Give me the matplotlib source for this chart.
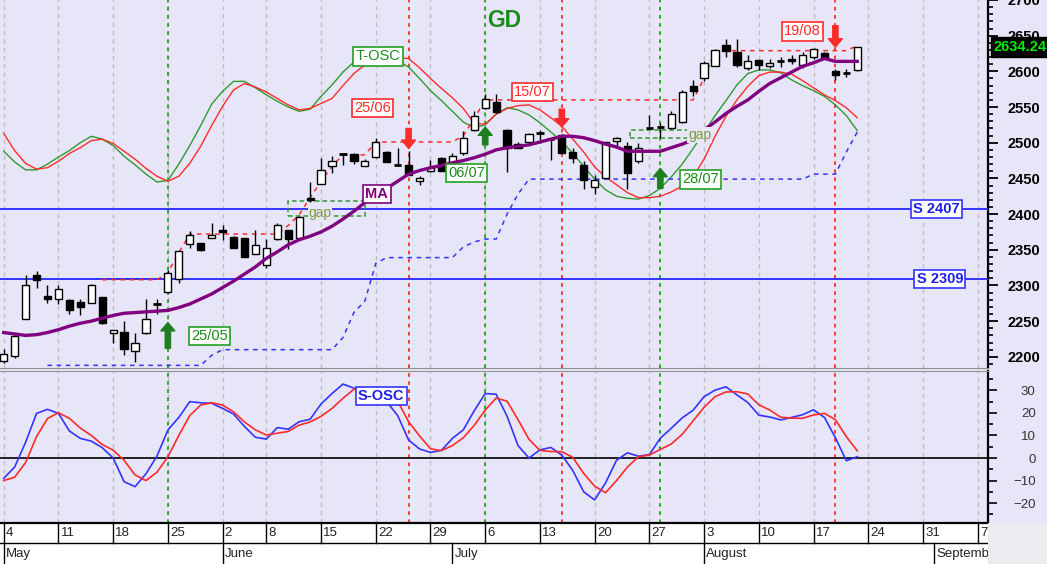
import numpy as np
import pandas as pd
import matplotlib
matplotlib.use('Agg')
import matplotlib.pyplot as plt
from matplotlib.patches import Rectangle

plt.rcParams['font.family'] = ['Liberation Sans', 'DejaVu Sans']

# trading days, exchange closed on Whit Monday 1 June
days = pd.bdate_range('2020-05-04', '2020-09-11')
days = days[days != pd.Timestamp('2020-06-01')]

opens = [2194, 2201, 2253, 2314, 2285, 2281, 2280, 2277, 2276, 2284,
         2234, 2235, 2208, 2233, 2274, 2291, 2309, 2358, 2359, 2367,
         2378, 2368, 2366, 2344, 2328, 2365, 2377, 2367, 2423, 2442,
         2468, 2484, 2484, 2468, 2480, 2487, 2469, 2469, 2446, 2461,
         2478, 2472, 2486, 2518, 2548, 2557, 2518, 2498, 2501, 2513,
         2505, 2511, 2487, 2469, 2438, 2451, 2502, 2496, 2474, 2520,
         2523, 2520, 2529, 2580, 2590, 2607, 2637, 2627, 2605, 2616,
         2607, 2614, 2617, 2609, 2620, 2626, 2600, 2598, 2602]
highs = [2211, 2233, 2315, 2320, 2300, 2301, 2281, 2281, 2302, 2284,
         2237, 2250, 2233, 2281, 2281, 2322, 2348, 2376, 2360, 2388,
         2385, 2369, 2366, 2377, 2365, 2388, 2378, 2397, 2445, 2479,
         2481, 2484, 2486, 2477, 2507, 2488, 2492, 2488, 2454, 2476,
         2480, 2486, 2516, 2544, 2568, 2568, 2519, 2501, 2514, 2518,
         2507, 2512, 2492, 2474, 2455, 2501, 2508, 2501, 2499, 2539,
         2527, 2545, 2574, 2588, 2614, 2632, 2645, 2646, 2623, 2616,
         2618, 2620, 2623, 2627, 2633, 2627, 2604, 2604, 2634.24]
lows = [2191, 2199, 2253, 2297, 2275, 2274, 2260, 2258, 2276, 2246,
        2220, 2202, 2193, 2232, 2260, 2290, 2303, 2352, 2348, 2367,
        2364, 2352, 2340, 2344, 2325, 2364, 2351, 2367, 2417, 2442,
        2458, 2469, 2470, 2468, 2478, 2473, 2469, 2455, 2441, 2459,
        2461, 2471, 2483, 2517, 2547, 2542, 2459, 2493, 2501, 2499,
        2476, 2485, 2472, 2435, 2428, 2451, 2495, 2435, 2472, 2520,
        2507, 2519, 2527, 2565, 2586, 2607, 2620, 2606, 2602, 2602,
        2605, 2606, 2610, 2605, 2617, 2618, 2588, 2592, 2601]
closes = [2204, 2229, 2300, 2308, 2281, 2295, 2266, 2270, 2300, 2247,
          2237, 2211, 2220, 2253, 2274, 2318, 2348, 2370, 2349, 2371,
          2375, 2353, 2340, 2356, 2352, 2384, 2365, 2396, 2420, 2462,
          2475, 2484, 2474, 2475, 2501, 2473, 2469, 2455, 2451, 2464,
          2461, 2482, 2506, 2538, 2561, 2543, 2492, 2493, 2512, 2513,
          2505, 2486, 2478, 2448, 2448, 2501, 2507, 2458, 2492, 2520,
          2522, 2540, 2571, 2572, 2612, 2630, 2629, 2609, 2614, 2609,
          2612, 2614, 2615, 2623, 2631, 2619, 2595, 2598, 2634.24]

ma = [2234, 2232, 2230, 2231, 2234, 2238, 2243, 2247, 2250, 2254,
      2258, 2261, 2262, 2263, 2264, 2265, 2269, 2274, 2281, 2288,
      2297, 2306, 2316, 2326, 2338, 2347, 2357, 2364, 2369, 2375,
      2383, 2393, 2404, 2416, 2426, 2436, 2446, 2456, 2461, 2465,
      2468, 2472, 2475, 2479, 2484, 2490, 2493, 2495, 2497, 2501,
      2505, 2509, 2509, 2507, 2503, 2498, 2494, 2488, 2488, 2488,
      2488, 2493, 2498, 2504, 2518, 2529, 2541, 2551, 2560, 2572,
      2583, 2591, 2599, 2607, 2612, 2618, 2614, 2614, 2614]

# T-OSC, drawn on the price scale
tosc_fast = [2488, 2473, 2462, 2462, 2470, 2480, 2489, 2500, 2509, 2505,
             2496, 2481, 2469, 2456, 2445, 2447, 2470, 2496, 2524, 2554,
             2572, 2586, 2586, 2577, 2567, 2558, 2550, 2544, 2547, 2565,
             2581, 2599, 2613, 2622, 2625, 2622, 2615, 2606, 2590, 2573,
             2559, 2544, 2529, 2521, 2525, 2540, 2549, 2546, 2539, 2528,
             2515, 2502, 2485, 2467, 2449, 2434, 2425, 2422, 2421, 2426,
             2436, 2452, 2470, 2492, 2514, 2538, 2559, 2581, 2597, 2602,
             2602, 2598, 2588, 2580, 2573, 2565, 2553, 2538, 2517]
tosc_slow = [2513, 2489, 2471, 2463, 2465, 2474, 2485, 2493, 2503, 2505,
             2499, 2488, 2477, 2464, 2453, 2446, 2453, 2471, 2495, 2524,
             2551, 2574, 2583, 2578, 2571, 2562, 2553, 2546, 2548, 2555,
             2562, 2580, 2597, 2609, 2616, 2619, 2619, 2618, 2605, 2590,
             2576, 2563, 2548, 2527, 2526, 2540, 2548, 2552, 2553, 2546,
             2535, 2523, 2505, 2487, 2466, 2452, 2441, 2430, 2423, 2423,
             2425, 2431, 2439, 2452, 2477, 2509, 2537, 2560, 2579, 2594,
             2599, 2599, 2596, 2587, 2577, 2567, 2559, 2549, 2535]

sosc_fast = [-9, -4, 7, 19.8, 21.6, 19.8, 12, 8.7, 7.5, 4.6,
             0, -10.5, -12.7, -7, 0.8, 12.4, 18, 25, 24.5, 24.3,
             22, 19.5, 14, 9.2, 8.4, 13.5, 12.8, 16.1, 17.2, 24,
             28.6, 32.8, 31, 29.5, 28, 25, 18.8, 8, 4, 2.5,
             3.4, 8.7, 12.5, 21, 28.6, 28.3, 18.5, 5.5, 0, 3.6,
             4.7, 1.3, -5.5, -15, -18.6, -11, -1, 2.3, 0.8, 1.5,
             8.8, 13.2, 17.8, 21.2, 27.2, 30.1, 31.6, 28, 24.6, 19,
             18.2, 16.9, 18, 19.2, 21.4, 18, 9, -1.2, 0.6]
sosc_slow = [-10, -8.5, -2, 9.5, 17.5, 20.1, 17.6, 13.3, 10, 6,
             3.5, -1, -7.5, -10, -6.3, 0.5, 10, 18.8, 23.5, 24.5,
             23.5, 20.5, 16, 12.5, 10.2, 11, 11.8, 14.6, 16, 18.5,
             22, 26.5, 30.5, 31, 30, 27, 25.2, 16.1, 9.8, 4.1,
             3.3, 5.5, 9, 14.5, 21.3, 26.6, 25.2, 17, 8.3, 3.4,
             2.9, 2.8, 0.3, -6.8, -12.5, -15.4, -10, -4, 0.6, 1.3,
             3.8, 6.2, 10.5, 16.5, 22.5, 27.2, 29.3, 29.4, 28.4, 23.6,
             21.3, 18.1, 17.7, 17.6, 19.1, 19.8, 17, 9.5, 3.2]

nan = np.nan
stop = [nan, nan, nan, nan, 2188, 2188, 2188, 2188, 2188, 2188,
        2188, 2188, 2188, 2188, 2188, 2188, 2188, 2188, 2188, 2202,
        2210, 2210, 2210, 2210, 2210, 2210, 2210, 2210, 2210, 2210,
        2210, 2227, 2262, 2278, 2331, 2339, 2339, 2339, 2339, 2339,
        2339, 2339, 2354, 2361, 2365, 2365, 2400, 2428, 2449, 2449,
        2449, 2449, 2449, 2449, 2449, 2449, 2449, 2449, 2449, 2449,
        2449, 2449, 2449, 2449, 2449, 2449, 2449, 2449, 2449, 2449,
        2449, 2449, 2449, 2449, 2456, 2456, 2456, 2487, 2515]
resist = [nan, nan, nan, nan, nan, nan, nan, nan, nan, 2308,
          2308, 2308, 2308, 2308, 2308, 2318, 2346, 2372, 2372, 2372,
          2372, 2372, 2372, 2372, 2372, 2372, 2384, 2399, 2423, 2446,
          2467, 2483, 2483, 2483, 2501, 2501, 2501, 2501, 2501, 2501,
          2501, 2501, 2510, 2534, 2560, 2560, 2560, 2560, 2560, 2560,
          2560, 2560, 2560, 2560, 2560, 2560, 2560, 2560, 2560, 2560,
          2560, 2560, 2560, 2560, 2590, 2629, 2629, 2629, 2629, 2629,
          2629, 2629, 2629, 2629, 2629, 2629, 2629, 2629, 2636]

supports = [2407, 2309]
support_lab_x = [85.2, 85.55]

buy_idx = [15, 44, 60]
buy_arrow = [(2212, 2248), (2497, 2522), (2436, 2464)]
buy_lab = [(18.8, 2229.5), (42.3, 2458), (63.7, 2448.7)]
sell_idx = [37, 51, 76]
sell_arrow = [(2520, 2492), (2547, 2522), (2664, 2634)]
sell_lab = [(33.7, 2549), (48.3, 2571), (73.0, 2656)]

gap_x0 = [26.0, 57.2]
gap_x1 = [33.0, 62.7]
gap_lo = [2397, 2506]
gap_hi = [2419, 2518]
gap_txt = [(28.9, 2402), (63.6, 2511)]

n = len(closes)
x = np.arange(n)
bg = '#e6e6f8'
green = '#1a8c1a'
red = '#ff2a2a'
blue = '#3434ff'
purple = '#800080'

week_start = [i for i in range(len(days)) if i == 0 or days[i].weekday() < days[i - 1].weekday()]
month_start = [i for i in range(len(days)) if i == 0 or days[i].month != days[i - 1].month]

fig = plt.figure(figsize=(10.47, 5.64), dpi=100)
fig.patch.set_facecolor(bg)
W = 987.5 / 1047
ax1 = fig.add_axes([0, 1 - 368 / 564, W, 368 / 564])
ax2 = fig.add_axes([0, 41.5 / 564, W, 151.5 / 564])
ax3 = fig.add_axes([0, 0, W, 41.5 / 564])
fig.add_artist(Rectangle((W, 0), 1 - W, 41.5 / 564, transform=fig.transFigure,
                         fc='#ececf0', ec='none'))

xlim = (-0.34, 89.9)
for ax in (ax1, ax2):
    ax.set_facecolor(bg)
    ax.set_xlim(*xlim)
    ax.set_xticks([])
    for w in week_start:
        ax.axvline(w, color='#bdbdbd', lw=1, ls=(0, (3, 3)), zorder=1)
    for i in buy_idx:
        ax.axvline(i, color='#22a022', lw=1.3, ls=(0, (2, 2.5)), zorder=2)
    for i in sell_idx:
        ax.axvline(i, color=red, lw=1.3, ls=(0, (2, 2.5)), zorder=2)
    ax.yaxis.tick_right()
    ax.spines['left'].set_visible(False)
    ax.spines['top'].set_color('#909090')
    ax.spines['bottom'].set_color('#909090')
    ax.spines['right'].set_linewidth(1.6)

# ---- price panel
ax1.set_ylim(2184.3, 2696.45)
ax1.spines['top'].set_visible(False)
ax1.set_yticks(np.arange(2200, 2701, 50))
ax1.set_yticks(np.arange(2190, 2700, 10), minor=True)
ax1.tick_params(axis='y', which='major', length=7, width=1.3, pad=7.5, labelsize=10.5)
ax1.tick_params(axis='y', which='minor', length=3.6, width=1.2)
for t in ax1.get_yticklabels():
    t.set_fontweight('bold')

for s, lx in zip(supports, support_lab_x):
    ax1.axhline(s, color=blue, lw=1.4, zorder=3)
    ax1.text(lx, s, f'S {s}', color='#1e1ee8', fontsize=10.5, fontweight='bold',
             ha='center', va='center', zorder=12,
             bbox=dict(boxstyle='square,pad=0.15', fc='white', ec=blue, lw=1.2))

ax1.plot(x, tosc_fast, color='#2e9a2e', lw=1, zorder=3)
ax1.plot(x, tosc_slow, color=red, lw=1, zorder=3)
ax1.plot(x, stop, color=blue, lw=1.1, ls=(0, (3, 3)), zorder=3)
ax1.plot(x, resist, color=red, lw=1.1, ls=(0, (3, 3)), zorder=3)

for x0, x1, lo, hi in zip(gap_x0, gap_x1, gap_lo, gap_hi):
    ax1.add_patch(Rectangle((x0, lo), x1 - x0, hi - lo, fill=False, ec='#2e9a2e',
                            lw=1.1, ls=(0, (3, 2)), zorder=3))

bw = 0.66
for i in range(n):
    o, h, l, c = opens[i], highs[i], lows[i], closes[i]
    ax1.vlines(i, l, h, color='black', lw=1, zorder=4)
    lo, hi = min(o, c), max(o, c)
    if hi - lo < 1.5:
        ax1.hlines((o + c) / 2, i - bw / 2, i + bw / 2, color='black', lw=2, zorder=5)
    else:
        ax1.add_patch(Rectangle((i - bw / 2, lo), bw, hi - lo,
                                fc='white' if c > o else 'black', ec='black', lw=1, zorder=5))

ax1.plot(x, ma, color=purple, lw=2.4, zorder=6)

for (gx, gy) in gap_txt:
    ax1.text(gx, gy, 'gap', color='#7f9a3a', fontsize=10, ha='center', va='center', zorder=9,
             bbox=dict(boxstyle='square,pad=0.05', fc=bg, ec='none'))


def tag(ax, tx, ty, s, color, weight='normal', size=10.5, txtcolor=None):
    ax.text(tx, ty, s, color=txtcolor or color, fontsize=size, fontweight=weight,
            ha='center', va='center', zorder=12,
            bbox=dict(boxstyle='square,pad=0.15', fc='white', ec=color, lw=1.2))


arrow_style = 'simple,head_length=0.6,head_width=1.0,tail_width=0.38'
for i, (tail, tip), (lx, ly) in zip(buy_idx, buy_arrow, buy_lab):
    ax1.annotate('', xy=(i, tip), xytext=(i, tail), zorder=11,
                 arrowprops=dict(arrowstyle=arrow_style, fc='#1f7f1f', ec='#1f7f1f',
                                 shrinkA=0, shrinkB=0, mutation_scale=10))
    tag(ax1, lx, ly, days[i].strftime('%d/%m'), '#22a022', txtcolor=green)
for i, (tail, tip), (lx, ly) in zip(sell_idx, sell_arrow, sell_lab):
    ax1.annotate('', xy=(i, tip), xytext=(i, tail), zorder=11,
                 arrowprops=dict(arrowstyle=arrow_style, fc=red, ec=red,
                                 shrinkA=0, shrinkB=0, mutation_scale=10))
    tag(ax1, lx, ly, days[i].strftime('%d/%m'), red)

tag(ax1, 34.2, 2621, 'T-OSC', '#22a022', txtcolor=green)
tag(ax1, 34.1, 2428.5, 'MA', purple, weight='bold')
ax1.text(0.511, 0.944, 'GD', transform=ax1.transAxes, color=green, fontsize=16.5,
         fontweight='bold', ha='center', va='center')
ax1.text(1.006, closes[-1], f'{closes[-1]:.2f}', transform=ax1.get_yaxis_transform(),
         color='#00ee00', fontsize=10.5, fontweight='bold', ha='left', va='center',
         clip_on=False, zorder=20,
         bbox=dict(boxstyle='square,pad=0.2', fc='black', ec='black'))

# ---- oscillator panel
ax2.set_ylim(-28.6, 38.6)
ax2.set_yticks([-20, -10, 0, 10, 20, 30])
ax2.set_yticks(np.arange(-25, 38, 5), minor=True)
ax2.tick_params(axis='y', which='major', length=6.7, width=1.2, pad=28, labelsize=9.5,
                labelcolor='#333333')
ax2.tick_params(axis='y', which='minor', length=3.6, width=1.2)
for t in ax2.get_yticklabels():
    t.set_horizontalalignment('right')
ax2.axhline(0, color='black', lw=1.2, zorder=3)
ax2.plot(x, sosc_fast, color=blue, lw=1.2, zorder=4)
ax2.plot(x, sosc_slow, color=red, lw=1.2, zorder=4)
tag(ax2, 34.5, 27.5, 'S-OSC', blue, weight='bold', txtcolor='#1e1ee8')

# ---- date axis
ax3.set_facecolor('white')
ax3.set_xlim(*xlim)
ax3.set_ylim(0, 2)
ax3.set_xticks([])
ax3.set_yticks([])
for sp in ('left', 'right', 'bottom'):
    ax3.spines[sp].set_visible(False)
ax3.spines['top'].set_linewidth(1.6)
ax3.axhline(1, color='black', lw=1)
for w in week_start:
    ax3.plot([w, w], [1, 2], color='black', lw=1)
    ax3.text(w + 0.2, 1.48, str(days[w].day), fontsize=9.5, color='#222222',
             ha='left', va='center', clip_on=True)
for m in month_start:
    ax3.plot([m, m], [0, 1], color='black', lw=1)
    ax3.text(m + 0.2, 0.48, days[m].strftime('%B'), fontsize=9.5, color='#222222',
             ha='left', va='center', clip_on=True)

fig.savefig('out.png', dpi=100, facecolor=bg)
